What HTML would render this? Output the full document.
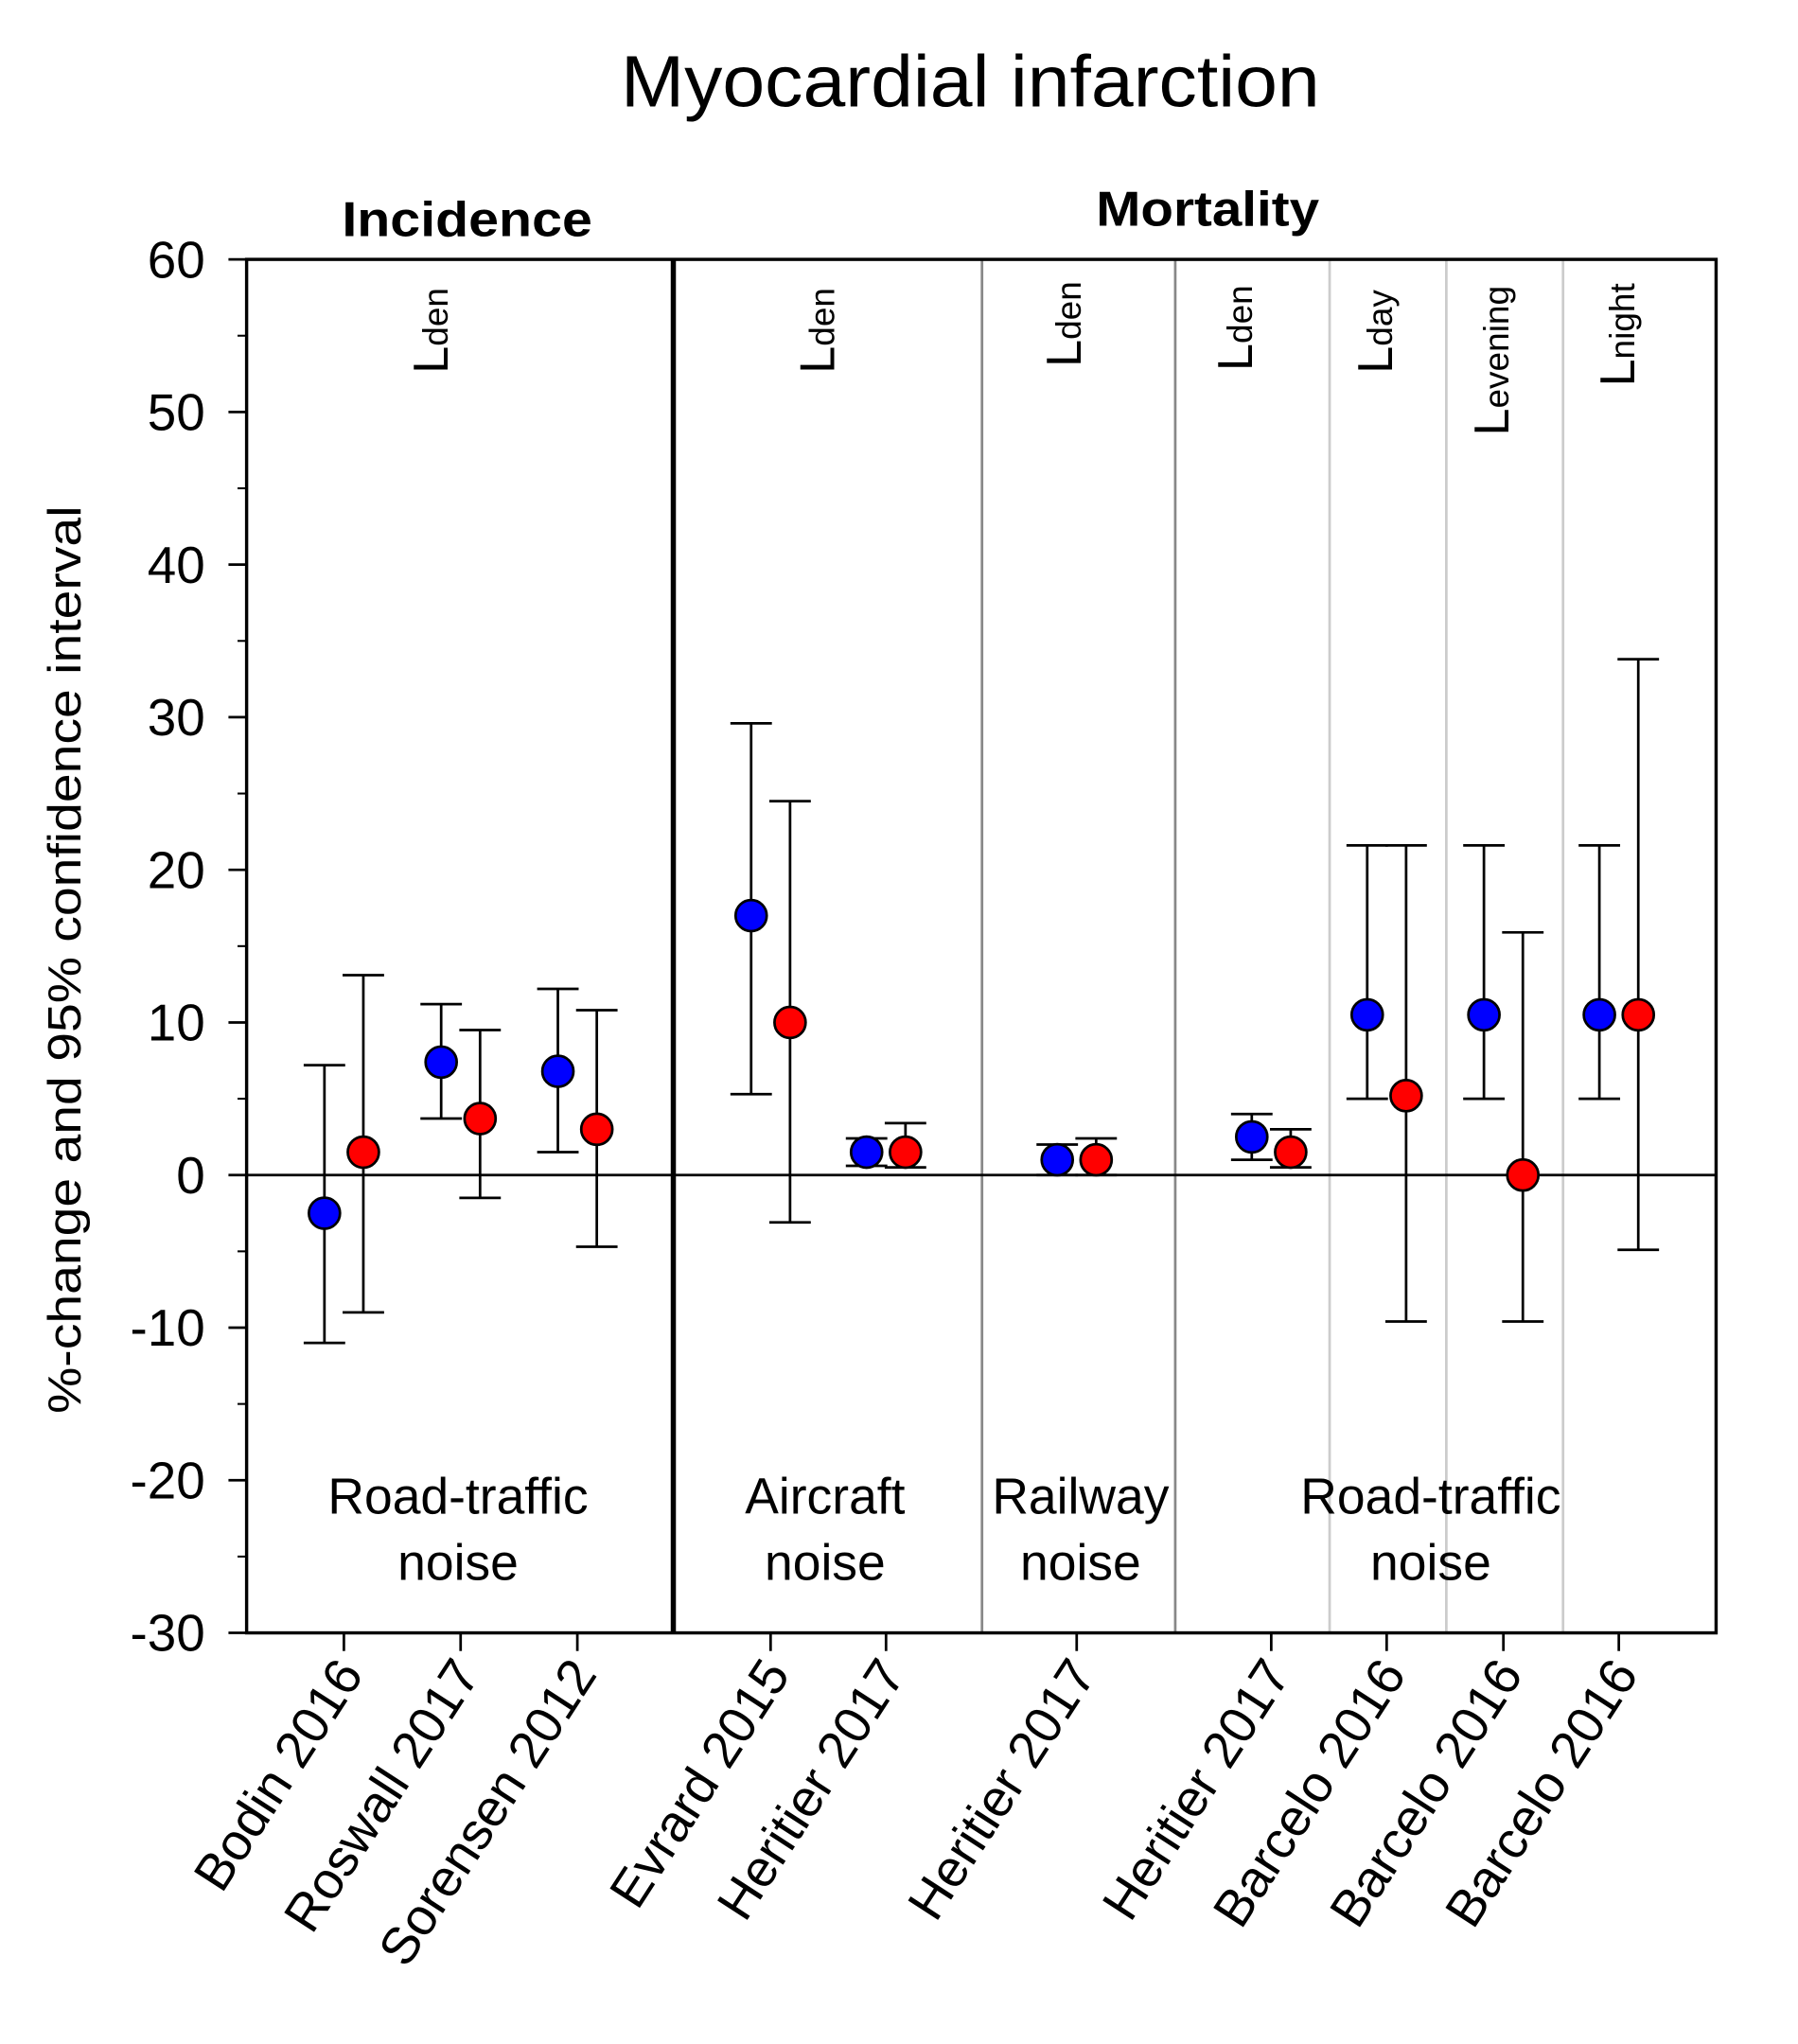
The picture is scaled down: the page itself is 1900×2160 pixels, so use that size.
<!DOCTYPE html>
<html><head><meta charset="utf-8"><style>
html,body{margin:0;padding:0;background:#fff}
svg{display:block}
text{font-family:"Liberation Sans",Arial,sans-serif;fill:#000}
</style></head><body>
<svg id="chart" width="1900" height="2160" viewBox="0 0 1386 1576" xmlns="http://www.w3.org/2000/svg">
<text x="748" y="82" font-size="56" text-anchor="middle" textLength="539" lengthAdjust="spacingAndGlyphs">Myocardial infarction</text>
<text x="360" y="182" font-size="38" font-weight="bold" text-anchor="middle" textLength="193" lengthAdjust="spacingAndGlyphs">Incidence</text>
<text x="931" y="174" font-size="38" font-weight="bold" text-anchor="middle" textLength="172" lengthAdjust="spacingAndGlyphs">Mortality</text>
<text transform="translate(62,740) rotate(-90)" font-size="36" text-anchor="middle" textLength="700" lengthAdjust="spacingAndGlyphs">%-change and 95% confidence interval</text>
<g id="grid"></g>
<g id="marks"></g>
<g id="axes"></g>
</svg>
<script>
const categories = ["Bodin 2016","Roswall 2017","Sorensen 2012","Evrard 2015","Heritier 2017","Heritier 2017","Heritier 2017","Barcelo 2016","Barcelo 2016","Barcelo 2016"];
const blueVals = [-2.5, 7.4, 6.8, 17, 1.5, 1, 2.5, 10.5, 10.5, 10.5];
const blueLow  = [-11, 3.7, 1.5, 5.3, 0.6, 0, 1, 5, 5, 5];
const blueHigh = [7.2, 11.2, 12.2, 29.6, 2.4, 2, 4, 21.6, 21.6, 21.6];
const redVals  = [1.5, 3.7, 3, 10, 1.5, 1, 1.5, 5.2, 0, 10.5];
const redLow   = [-9, -1.5, -4.7, -3.1, 0.5, 0, 0.5, -9.6, -9.6, -4.9];
const redHigh  = [13.1, 9.5, 10.8, 24.5, 3.4, 2.4, 3, 21.6, 15.9, 33.8];
const yTicks = [60,50,40,30,20,10,0,-10,-20,-30];
const catX = [265,355,445,594,683,830,980,1069,1159,1248];

const NS="http://www.w3.org/2000/svg";
const L=190,R=1323,T=200,B=1259,yMin=-30,yMax=60;
function yS(v){return B-(v-yMin)/(yMax-yMin)*(B-T);}
function mk(tag,attrs,parent){const e=document.createElementNS(NS,tag);for(const k in attrs)e.setAttribute(k,attrs[k]);parent.appendChild(e);return e;}
const grid=document.getElementById('grid'),marks=document.getElementById('marks'),axes=document.getElementById('axes');

[[757,'#888',2],[906,'#888',2],[1025,'#ccc',2],[1115,'#ccc',2],[1205,'#ccc',2]].forEach(d=>{
  const l=mk('line',{x1:d[0],x2:d[0],y1:T,y2:B,stroke:d[1],'stroke-width':d[2]},grid);
  
  
});
const thick=mk('line',{x1:519,x2:519,y1:T,y2:B,stroke:'#000','stroke-width':4},grid);


const zl=mk('line',{x1:L,x2:R,y1:yS(0),y2:yS(0),stroke:'#000','stroke-width':2},grid);



const fr=mk('rect',{x:L,y:T,width:R-L,height:B-T,fill:'none',stroke:'#000','stroke-width':2.5},axes);



yTicks.forEach(v=>{
  const y=yS(v);
  const t=mk('line',{x1:L-14,x2:L,y1:y,y2:y,stroke:'#000','stroke-width':2},axes);
  
  
  const tx=mk('text',{x:L-32,y:y+14,'font-size':40,'text-anchor':'end'},axes);
  tx.textContent=v;
  
  
  if(v>yMin){const m=mk('line',{x1:L-7,x2:L,y1:yS(v-5),y2:yS(v-5),stroke:'#000','stroke-width':1.5},axes);
    
    }
});

categories.forEach((c,i)=>{
  const x=catX[i];
  const t=mk('line',{x1:x,x2:x,y1:B,y2:B+14,stroke:'#000','stroke-width':2},axes);
  
  
  const tx=mk('text',{transform:`translate(${x+16},${B+32}) rotate(-57)`,'font-size':40,'text-anchor':'end'},axes);
  tx.textContent=c;
  
  
});

function drawSeries(vals,lo,hi,off,color,name){
  vals.forEach((v,i)=>{
    const x=catX[i]+off;
    const g=mk('g',{},marks);
    
    
    mk('line',{x1:x,x2:x,y1:yS(lo[i]),y2:yS(hi[i]),stroke:'#000','stroke-width':2},g);
    mk('line',{x1:x-16,x2:x+16,y1:yS(lo[i]),y2:yS(lo[i]),stroke:'#000','stroke-width':2},g);
    mk('line',{x1:x-16,x2:x+16,y1:yS(hi[i]),y2:yS(hi[i]),stroke:'#000','stroke-width':2},g);
    mk('circle',{cx:x,cy:yS(v),r:12,fill:color,stroke:'#000','stroke-width':2},g);
  });
}
drawSeries(blueVals,blueLow,blueHigh,-15,'#0000ff','blue');
drawSeries(redVals,redLow,redHigh,15,'#ff0000','red');

[[345,'den',288],[643,'den',288],[833,'den',283],[965,'den',286],[1073,'day',288],[1163,'evening',336],[1260,'night',298]].forEach(m=>{
  const tx=mk('text',{transform:`translate(${m[0]},${m[2]}) rotate(-90)`,'font-size':38},axes);
  tx.innerHTML='L<tspan font-size="27">'+m[1]+'</tspan>';
  
  
});

[[353,'Road-traffic','noise'],[636,'Aircraft','noise'],[833,'Railway','noise'],[1103,'Road-traffic','noise']].forEach(g=>{
  const t1=mk('text',{x:g[0],y:1167,'font-size':39,'text-anchor':'middle'},axes);
  t1.textContent=g[1];
  
  
  const t2=mk('text',{x:g[0],y:1218,'font-size':39,'text-anchor':'middle'},axes);
  t2.textContent=g[2];
  
  
});
</script>
</body></html>
